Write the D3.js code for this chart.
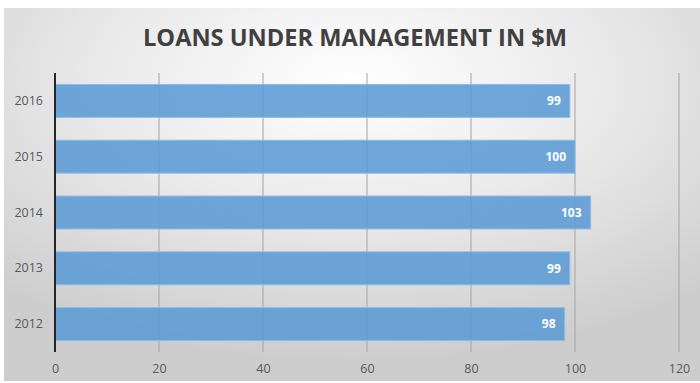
<!DOCTYPE html>
<html lang="en">
<head>
  <meta charset="UTF-8" />
  <title>Loans under management</title>
  <script src="https://d3js.org/d3.v7.min.js"></script>
  <style>
    body { margin: 0; background: #fff; }
    svg { display: block; }
    .tick text { font-family: "Open Sans", "Liberation Sans", sans-serif; font-size: 12.5px; fill: #595959; }
  </style>
</head>
<body>
  <svg id="chart"></svg>
  <script>
    // data (top row first)
    const years = ["2016", "2015", "2014", "2013", "2012"];
    const loans = [99, 100, 103, 99, 98];
    const xTicks = [0, 20, 40, 60, 80, 100, 120];

    const W = 700, H = 383;
    const svg = d3.select("#chart").attr("width", W).attr("height", H);

    // frame background with the soft radial shading
    const defs = svg.append("defs");
    const grad = defs.append("radialGradient")
      .attr("id", "bg")
      .attr("cx", "50%").attr("cy", "20%").attr("r", "75%");
    grad.append("stop").attr("offset", "0%").attr("stop-color", "#ffffff");
    grad.append("stop").attr("offset", "50%").attr("stop-color", "#e9e9e9");
    grad.append("stop").attr("offset", "100%").attr("stop-color", "#cdcdcd");

    svg.append("rect")
      .attr("x", 4).attr("y", 8)
      .attr("width", W - 4).attr("height", 373)
      .attr("fill", "url(#bg)");

    // title
    svg.append("text")
      .attr("x", 355).attr("y", 46)
      .attr("text-anchor", "middle")
      .attr("font-family", "'Open Sans', sans-serif")
      .attr("font-weight", "bold")
      .attr("font-size", 24)
      .attr("textLength", 424)
      .attr("lengthAdjust", "spacingAndGlyphs")
      .attr("fill", "#404040")
      .text("LOANS UNDER MANAGEMENT IN $M");

    const margin = { top: 73, right: 21, bottom: 31, left: 55 };

    const x = d3.scaleLinear()
      .domain([0, 120])
      .range([margin.left, W - margin.right]);

    const y = d3.scaleBand()
      .domain(years)
      .range([margin.top, H - margin.bottom])
      .paddingInner(0.41)
      .paddingOuter(0.205);

    // vertical gridlines
    svg.append("g")
      .selectAll("line")
      .data(xTicks.slice(1))
      .join("line")
      .attr("x1", d => x(d)).attr("x2", d => x(d))
      .attr("y1", margin.top).attr("y2", H - margin.bottom)
      .attr("stroke", "#a3a3a3")
      .attr("stroke-width", 1);

    // x axis labels only
    const xAxis = svg.append("g")
      .attr("transform", `translate(0,${H - margin.bottom})`)
      .call(d3.axisBottom(x).tickValues(xTicks).tickSize(0).tickPadding(12));
    xAxis.select(".domain").remove();

    // bars
    svg.append("g")
      .selectAll("rect")
      .data(loans)
      .join("rect")
      .attr("x", x(0))
      .attr("y", (d, i) => y(years[i]))
      .attr("width", d => x(d) - x(0))
      .attr("height", y.bandwidth())
      .attr("fill", "#5b9bd5")
      .attr("fill-opacity", 0.88)
      .attr("stroke", "#8dbbe6")
      .attr("stroke-width", 1);

    // value labels inside bar ends
    svg.append("g")
      .selectAll("text")
      .data(loans)
      .join("text")
      .attr("x", d => x(d) - 9)
      .attr("y", (d, i) => y(years[i]) + y.bandwidth() / 2)
      .attr("dy", "0.35em")
      .attr("text-anchor", "end")
      .attr("font-family", "'Open Sans', sans-serif")
      .attr("font-weight", "bold")
      .attr("font-size", 12)
      .attr("fill", "#ffffff")
      .text(d => d);

    // y axis
    const yAxis = svg.append("g")
      .attr("transform", `translate(${margin.left},0)`)
      .call(d3.axisLeft(y).tickSize(0).tickPadding(12));
    yAxis.select(".domain").remove();

    svg.append("line")
      .attr("x1", x(0)).attr("x2", x(0))
      .attr("y1", margin.top).attr("y2", H - margin.bottom)
      .attr("stroke", "#262626")
      .attr("stroke-width", 2);
  </script>
</body>
</html>
